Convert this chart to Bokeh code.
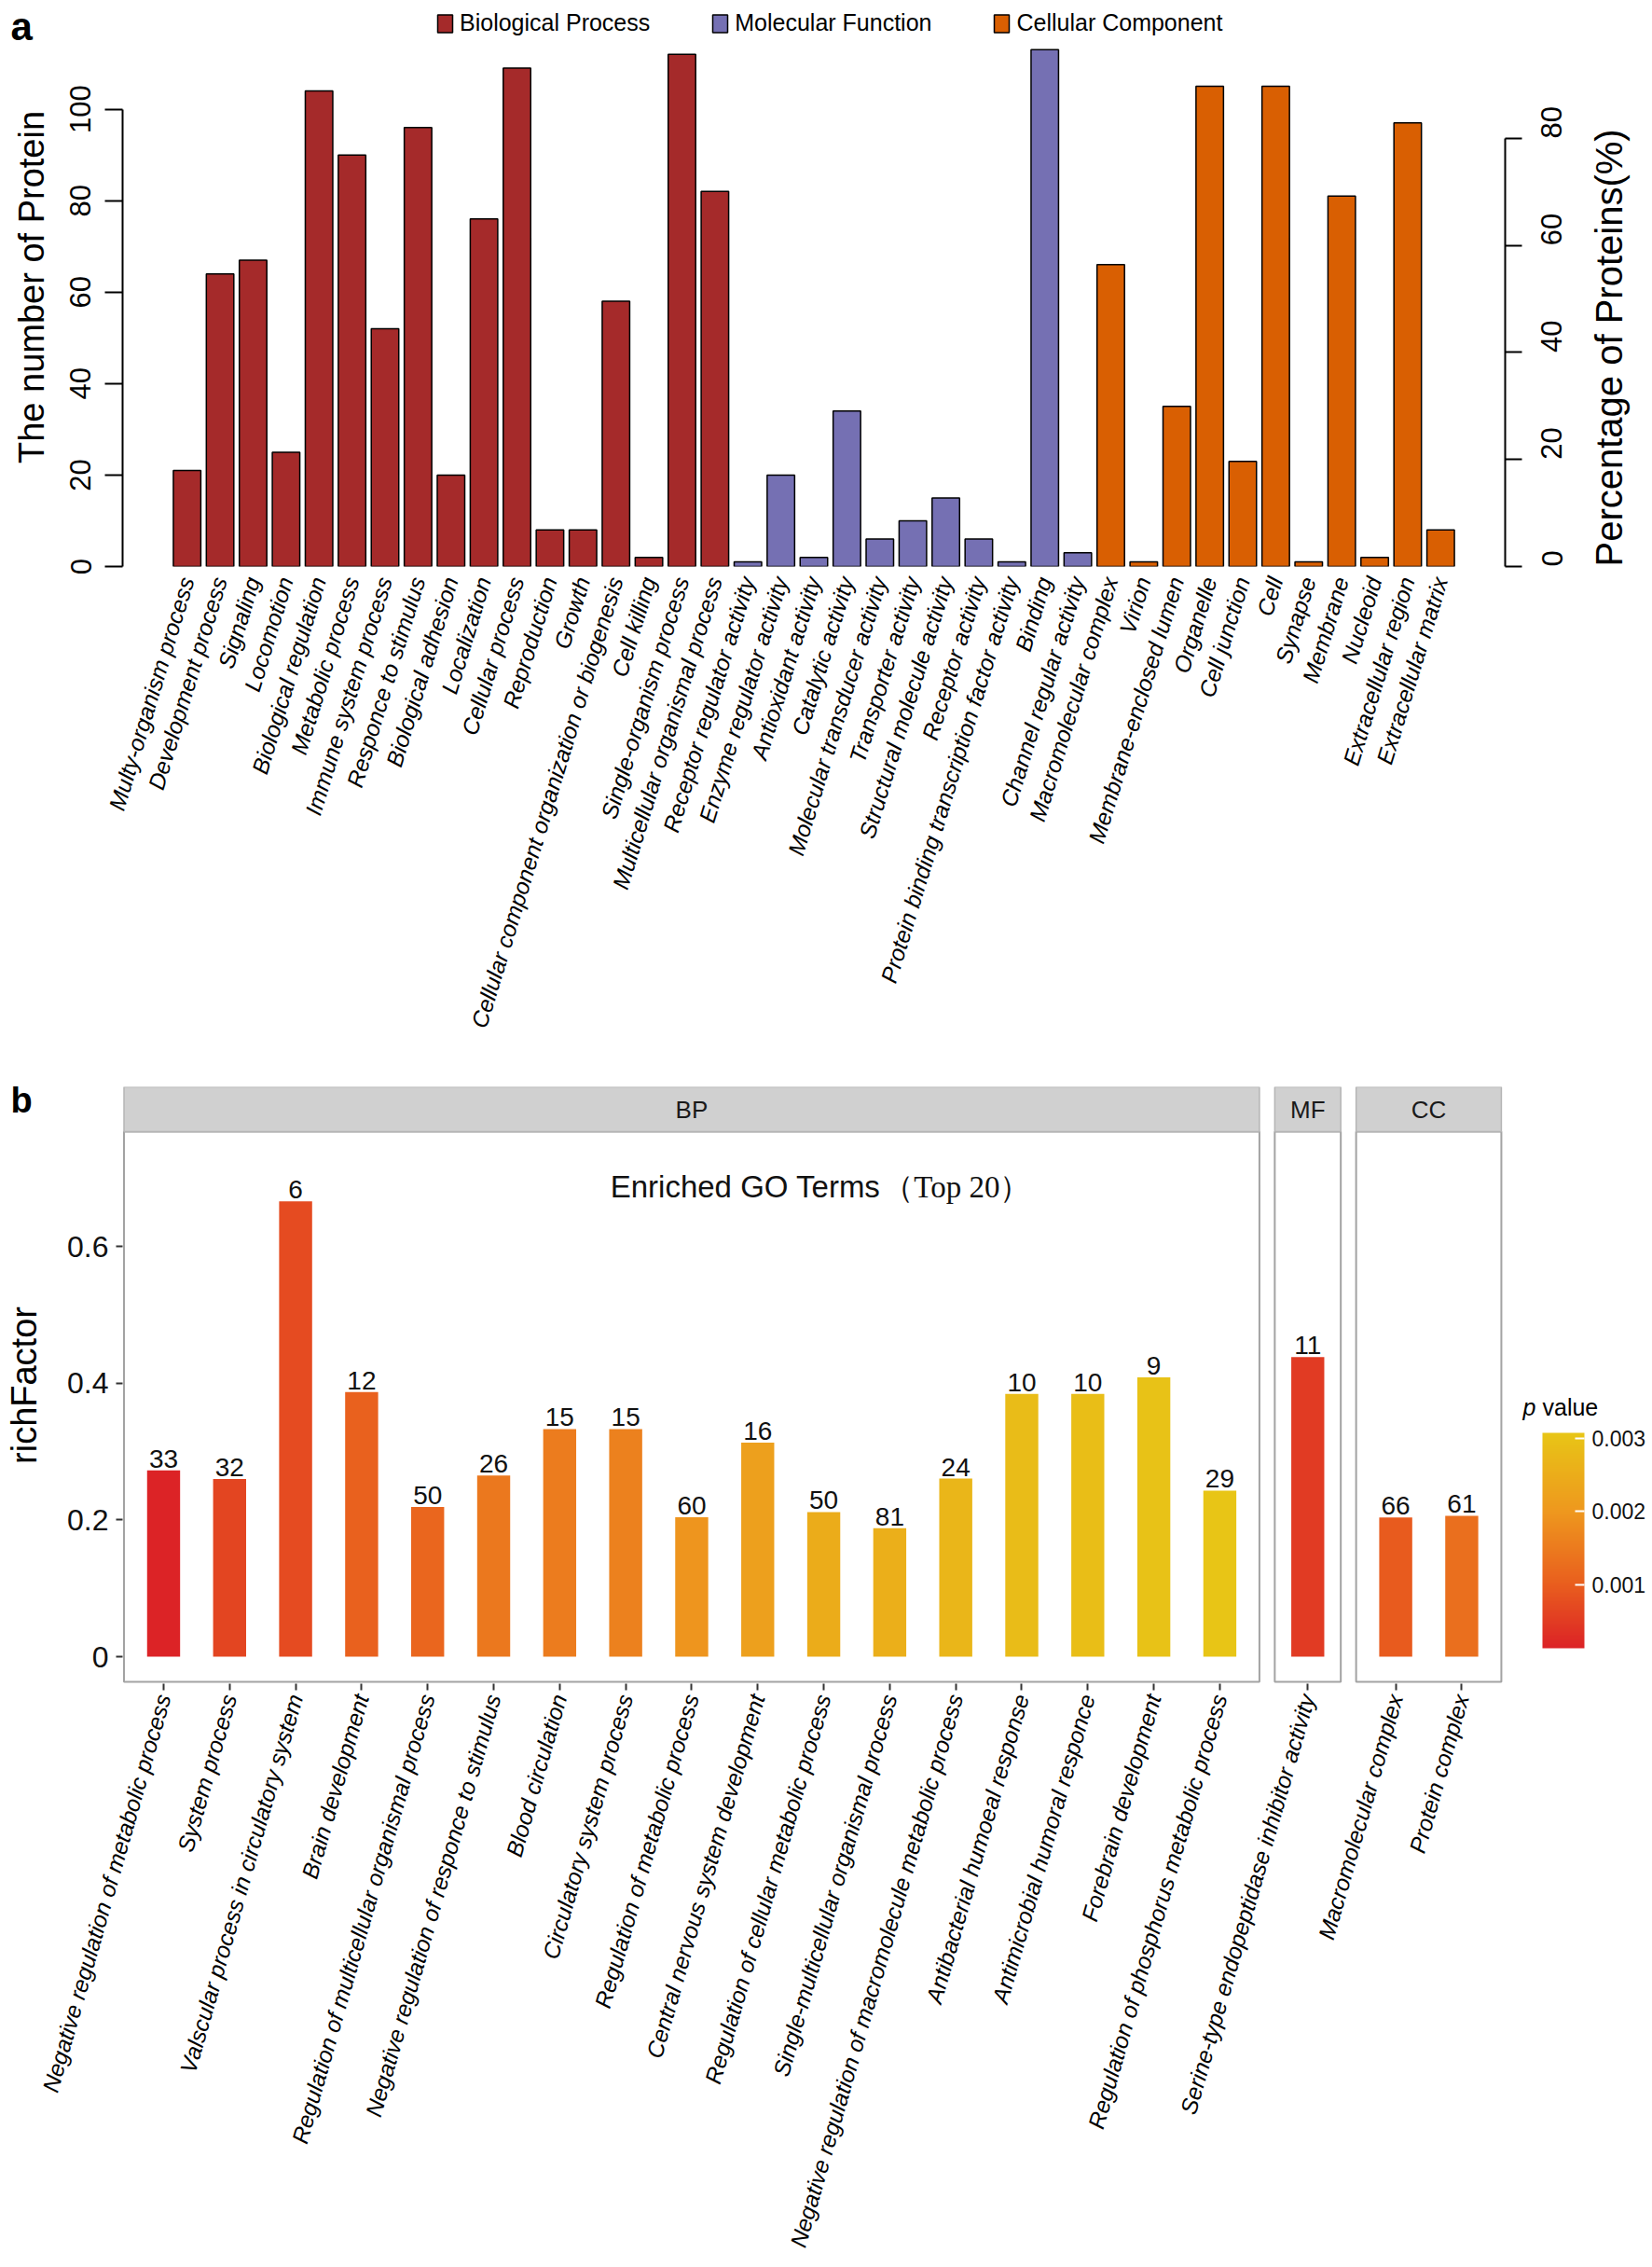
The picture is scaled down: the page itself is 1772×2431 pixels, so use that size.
import math
import numpy as np
from bokeh.plotting import figure
from bokeh.models import (ColumnDataSource, FactorRange, Range1d, LinearAxis, FixedTicker,
                          Legend, LegendItem, ColorBar, LinearColorMapper, Label,
                          CustomJSTickFormatter, PrintfTickFormatter)
from bokeh.layouts import column
from bokeh.embed import file_html
from bokeh.resources import INLINE
from bokeh.core.properties import value

FONT = "Liberation Sans"

# ---------------- Panel a data ----------------
bp_terms = ["Multy-organism process", "Development process", "Signaling", "Locomotion",
            "Biological regulation", "Metabolic process", "Immune system process",
            "Responce to stimulus", "Biological adhesion", "Localization", "Cellular process",
            "Reproduction", "Growth", "Cellular component organization or biogenesis",
            "Cell killing", "Single-organism process", "Multicellular organismal process"]
bp_counts = [21, 64, 67, 25, 104, 90, 52, 96, 20, 76, 109, 8, 8, 58, 2, 112, 82]

mf_terms = ["Receptor regulator activity", "Enzyme regulator activity", "Antioxidant activity",
            "Catalytic activity", "Molecular transducer activity", "Transporter activity",
            "Structural molecule activity", "Receptor activity",
            "Protein binding transcription factor activity", "Binding", "Channel regular activity"]
mf_counts = [1, 20, 2, 34, 6, 10, 15, 6, 1, 113, 3]

cc_terms = ["Macromolecular complex", "Virion", "Membrane-enclosed lumen", "Organelle",
            "Cell junction", "Cell", "Synapse", "Membrane", "Nucleoid", "Extracellular region",
            "Extracellular matrix"]
cc_counts = [66, 1, 35, 105, 23, 105, 1, 81, 2, 97, 8]

total_proteins = 117
left_ticks = [0, 20, 40, 60, 80, 100]
right_ticks = [0, 20, 40, 60, 80]

C_BP, C_MF, C_CC = "#A52A2A", "#7570B3", "#D95F02"

# ---------------- Panel b data ----------------
go_terms = ["Negative regulation of metabolic process", "System process",
            "Valscular process in circulatory system", "Brain development",
            "Regulation of multicellular organismal process",
            "Negative regulation of responce to stimulus", "Blood circulation",
            "Circulatory system process", "Regulation of metabolic process",
            "Central nervous system development", "Regulation of cellular metabolic process",
            "Single-multicellular organismal process",
            "Negative regulation of macromolecule metabolic process",
            "Antibacterial humoeal response", "Antimicrobial humoral responce",
            "Forebrain development", "Regulation of phosphorus metabolic process",
            "Serine-type endopeptidase inhibitor activity",
            "Macromolecular complex", "Protein complex"]
go_class = ["BP"] * 17 + ["MF"] + ["CC"] * 2
go_counts = [33, 32, 6, 12, 50, 26, 15, 15, 60, 16, 50, 81, 24, 10, 10, 9, 29, 11, 66, 61]
rich_factor = [0.2725, 0.260, 0.666, 0.387, 0.219, 0.265, 0.333, 0.333, 0.204, 0.313,
               0.2115, 0.188, 0.2606, 0.3844, 0.3844, 0.4087, 0.243, 0.4383, 0.2038, 0.2061]
p_values = [0.00013, 0.00063, 0.00072, 0.00104, 0.00113, 0.00145, 0.00151, 0.0016, 0.00195,
            0.00219, 0.00248, 0.00254, 0.00272, 0.00286, 0.00289, 0.00298, 0.00307,
            0.00048, 0.00096, 0.00128]
facets = ["BP", "MF", "CC"]
rich_ticks = [0, 0.2, 0.4, 0.6]
p_ticks = [0.001, 0.002, 0.003]

FIG_W = 1772
BORDER_L = 131
BORDER_R = 154
FRAME_W = FIG_W - BORDER_L - BORDER_R


def ghost_title(fig, text, loc, size, style="normal"):
    """Free-standing text placed outside the frame (a colour bar with only its title shown)."""
    g = ColorBar(color_mapper=LinearColorMapper(palette=["#ffffff"], low=0, high=1),
                 orientation="horizontal", width=1, height=1, scale_alpha=0,
                 ticker=FixedTicker(ticks=[]), location=loc, padding=0, margin=0,
                 title=text, title_standoff=0, title_text_font=FONT,
                 title_text_font_size=size, title_text_font_style=style,
                 title_text_color="black", bar_line_color=None, border_line_color=None,
                 background_fill_alpha=0, major_tick_line_color=None,
                 minor_tick_line_color=None, major_label_text_alpha=0)
    fig.add_layout(g, "center")
    return g


# ======================= Panel a =======================
all_terms = bp_terms + mf_terms + cc_terms
PX_PER_COUNT = 4.904
A_TOP, A_BOTTOM = 8, 540
A_H = 1147
A_FRAME_H = A_H - A_TOP - A_BOTTOM
y_end_a = A_FRAME_H / PX_PER_COUNT

xr_a = FactorRange(factors=all_terms, range_padding=1.455, range_padding_units="absolute")
pa = figure(width=FIG_W, height=A_H, x_range=xr_a, y_range=Range1d(0, y_end_a),
            output_backend="svg", toolbar_location=None, y_axis_location=None,
            min_border_left=BORDER_L, min_border_right=BORDER_R, min_border_top=A_TOP,
            min_border_bottom=A_BOTTOM)
pa.outline_line_color = None
pa.grid.visible = False

bar_w = 1 / 1.2
renderers = []
for terms, counts, col in [(bp_terms, bp_counts, C_BP), (mf_terms, mf_counts, C_MF),
                           (cc_terms, cc_counts, C_CC)]:
    src = ColumnDataSource(dict(x=terms, top=counts))
    r = pa.vbar(x="x", top="top", width=bar_w, bottom=0, source=src, fill_color=col,
                line_color="black", line_width=1.5)
    renderers.append(r)

xa = pa.xaxis[0]
xa.axis_line_color = None
xa.major_tick_line_color = None
xa.minor_tick_line_color = None
xa.major_label_orientation = math.radians(73)
xa.major_label_text_font = FONT
xa.major_label_text_font_style = "italic"
xa.major_label_text_font_size = "24.5px"
xa.major_label_text_color = "black"
xa.major_label_standoff = 6

yl = LinearAxis(ticker=FixedTicker(ticks=left_ticks), bounds=(0, 100))
yl.major_tick_out = 19
yl.major_tick_in = 0
yl.minor_tick_line_color = None
yl.axis_line_width = 2
yl.major_tick_line_width = 2
yl.axis_line_color = "black"
yl.major_tick_line_color = "black"
yl.major_label_orientation = "vertical"
yl.major_label_text_font = FONT
yl.major_label_text_font_size = "31px"
yl.major_label_text_color = "black"
yl.major_label_standoff = 15
yl.axis_label = "The number of Protein"
yl.axis_label_text_font = FONT
yl.axis_label_text_font_size = "38px"
yl.axis_label_text_font_style = "normal"
yl.axis_label_text_color = "black"
yl.axis_label_standoff = 18
pa.add_layout(yl, "left")

pa.extra_y_ranges = {"pct": Range1d(0, y_end_a / total_proteins * 100)}
yr = LinearAxis(y_range_name="pct", ticker=FixedTicker(ticks=right_ticks), bounds=(0, 80))
yr.major_tick_out = 18
yr.major_tick_in = 0
yr.minor_tick_line_color = None
yr.axis_line_width = 2
yr.major_tick_line_width = 2
yr.major_label_orientation = math.pi / 2
yr.major_label_text_font = FONT
yr.major_label_text_font_size = "31px"
yr.major_label_text_color = "black"
yr.major_label_standoff = 32
yr.axis_label = "Percentage of Proteins(%)"
yr.axis_label_text_font = FONT
yr.axis_label_text_font_size = "40px"
yr.axis_label_text_font_style = "normal"
yr.axis_label_text_color = "black"
yr.axis_label_standoff = 36
yr.axis_label_orientation = math.pi / 2
yr.axis_label_align = "start"
pa.add_layout(yr, "right")

legend = Legend(items=[LegendItem(label="Biological Process", renderers=[renderers[0]]),
                       LegendItem(label="Molecular Function", renderers=[renderers[1]]),
                       LegendItem(label="Cellular Component", renderers=[renderers[2]])],
                orientation="horizontal", location=(336, A_FRAME_H - 31),
                glyph_width=20, glyph_height=24, label_standoff=6, spacing=65,
                padding=0, margin=0, border_line_color=None, background_fill_alpha=0,
                label_text_font=FONT, label_text_font_size="25px", label_text_color="black")
pa.add_layout(legend, "center")

ghost_title(pa, "a", (-120, A_FRAME_H + A_TOP - 52), "42px", "bold")

# ======================= Panel b =======================
UNIT_PX = 71.0
EXPAND = 0.6
GAP = 16.5 / UNIT_PX
centers = []
panels = []
pos = 0.0
for f in facets:
    n = go_class.count(f)
    pad = 0.5 if n == 1 else EXPAND
    c = pos + pad + np.arange(n)
    centers.extend(c.tolist())
    panels.append((pos, c[-1] + pad))
    pos = c[-1] + pad + GAP

panel_lo, panel_hi, strip_hi = -0.0368, 0.768, 0.8336
Y_PX = 733.0
B_TOP, B_BOTTOM = 18, 626
B_H = 2431 - A_H
B_FRAME_H = B_H - B_TOP - B_BOTTOM
y0_b = panel_lo - 2 / Y_PX
y1_b = y0_b + B_FRAME_H / Y_PX
x0_b = -1.5 / UNIT_PX
x1_b = x0_b + FRAME_W / UNIT_PX

pb = figure(width=FIG_W, height=B_H, x_range=Range1d(x0_b, x1_b), y_range=Range1d(y0_b, y1_b),
            output_backend="svg", toolbar_location=None, x_axis_location=None,
            y_axis_location=None, min_border_left=BORDER_L, min_border_right=BORDER_R,
            min_border_top=B_TOP, min_border_bottom=B_BOTTOM)
pb.outline_line_color = None
pb.grid.visible = False

# panel boxes and strips
pb.quad(left=[p[0] for p in panels], right=[p[1] for p in panels], bottom=panel_lo,
        top=panel_hi, fill_color="white", line_color="#A3A3A3", line_width=2)
pb.quad(left=[p[0] for p in panels], right=[p[1] for p in panels], bottom=panel_hi,
        top=strip_hi, fill_color="#D0D0D0", line_color="#B5B5B5", line_width=1.5)
pb.text(x=[(p[0] + p[1]) / 2 for p in panels], y=(panel_hi + strip_hi) / 2, text=facets,
        text_font=value(FONT), text_font_size="26px", text_color="#1A1A1A",
        text_align="center", text_baseline="middle")

# colors
stops = [(0.0, (220, 35, 38)), (0.295, (233, 94, 30)), (0.636, (238, 152, 30)), (1.0, (232, 197, 22))]
palette = []
for t in np.linspace(0, 1, 256):
    for (t0, c0), (t1, c1) in zip(stops[:-1], stops[1:]):
        if t0 <= t <= t1:
            u = (t - t0) / (t1 - t0)
            rgb = [int(round(a + (b - a) * u)) for a, b in zip(c0, c1)]
            palette.append("#%02x%02x%02x" % tuple(rgb))
            break
mapper = LinearColorMapper(palette=palette, low=min(p_values), high=max(p_values))

src_b = ColumnDataSource(dict(x=centers, top=rich_factor, p=p_values,
                              lab=[str(c) for c in go_counts]))
pb.vbar(x="x", top="top", bottom=0, width=0.5, source=src_b,
        fill_color={"field": "p", "transform": mapper}, line_color=None)
pb.text(x="x", y="top", text="lab", source=src_b, text_font=value(FONT),
        text_font_size="28px", text_color="#111111", text_align="center",
        text_baseline="bottom", y_offset=-3)

# title inside BP panel
pb.add_layout(Label(x=11.46, y=0.6876, text="Enriched GO Terms", text_font=FONT,
                    text_font_size="33px", text_align="right", text_baseline="middle",
                    text_color="#111111"))
pb.add_layout(Label(x=11.5, y=0.6876, text="（Top 20）", text_font="Liberation Serif",
                    text_font_size="33px", text_align="left", text_baseline="middle",
                    text_color="#111111"))

# axes
xb = LinearAxis(ticker=FixedTicker(ticks=centers),
                formatter=CustomJSTickFormatter(args=dict(names=go_terms),
                                                code="return names[index]"))
xb.axis_line_color = None
xb.major_tick_out = 7
xb.major_tick_in = 0
xb.major_tick_line_width = 2
xb.major_tick_line_color = "#333333"
xb.minor_tick_line_color = None
xb.major_label_orientation = math.radians(74)
xb.major_label_text_font = FONT
xb.major_label_text_font_style = "italic"
xb.major_label_text_font_size = "24.5px"
xb.major_label_text_color = "black"
xb.major_label_standoff = 5
pb.add_layout(xb, "below")

yb = LinearAxis(ticker=FixedTicker(ticks=rich_ticks), major_label_overrides={0: "0"})
yb.axis_line_color = None
yb.major_tick_out = 7
yb.major_tick_in = 0
yb.major_tick_line_width = 2
yb.major_tick_line_color = "#333333"
yb.minor_tick_line_color = None
yb.major_label_text_font = FONT
yb.major_label_text_font_size = "32px"
yb.major_label_text_color = "#111111"
yb.major_label_standoff = 8
yb.axis_label = "richFactor"
yb.axis_label_text_font = FONT
yb.axis_label_text_font_size = "38px"
yb.axis_label_text_font_style = "normal"
yb.axis_label_text_color = "black"
yb.axis_label_standoff = 22
pb.add_layout(yb, "left")

cb = ColorBar(color_mapper=mapper, ticker=FixedTicker(ticks=p_ticks),
              formatter=PrintfTickFormatter(format="%.3f"), width=45, height=231,
              location=(1523, 38), padding=0, margin=0, major_tick_line_color="white",
              major_tick_line_width=2, major_tick_in=10, major_tick_out=0, label_standoff=8,
              major_label_text_font=FONT, major_label_text_font_size="23px",
              major_label_text_color="#111111", bar_line_color=None, border_line_color=None,
              background_fill_alpha=0, minor_tick_line_color=None)
pb.add_layout(cb, "center")

ghost_title(pb, "p", (1502, 282), "25px", "italic")
ghost_title(pb, "value", (1523, 282), "25px", "normal")
ghost_title(pb, "b", (-120, 604), "38px", "bold")

layout = column(pa, pb, spacing=0)
open("out.html", "w").write(file_html(layout, INLINE))
